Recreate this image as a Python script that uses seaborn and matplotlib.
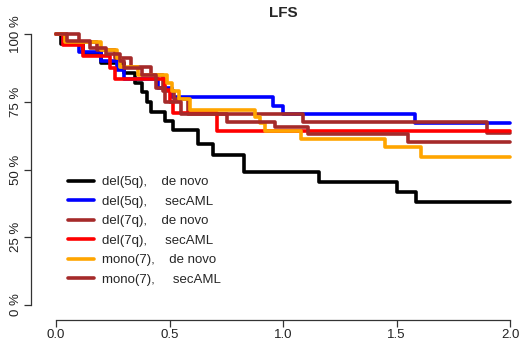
import pandas as pd
import seaborn as sns
import matplotlib.pyplot as plt

sns.set_style('white')
plt.rcParams['font.family'] = ['Liberation Sans', 'DejaVu Sans']

# survival curves (years, % leukemia-free survival)
labels = ['del(5q),    de novo', 'del(5q),     secAML', 'del(7q),    de novo',
          'del(7q),     secAML', 'mono(7),    de novo', 'mono(7),     secAML']
colors = ['black', 'blue', 'brown', 'red', 'orange', 'brown']

del5q_dn_t = [0, 0.02, 0.12, 0.20, 0.30, 0.35, 0.38, 0.40, 0.42, 0.48, 0.515, 0.625, 0.69, 0.83, 1.16, 1.50, 1.585, 2.0]
del5q_dn_s = [100, 96.4, 92.9, 89.3, 85.7, 82.1, 78.6, 75, 71.4, 68, 64.6, 59.5, 55.3, 49, 45.4, 41.6, 38, 38]

del5q_sec_t = [0, 0.03, 0.10, 0.20, 0.27, 0.30, 0.45, 0.51, 0.956, 1.0, 1.58, 2.0]
del5q_sec_s = [100, 96.7, 93.3, 90, 86.7, 83.3, 80, 76.7, 73.5, 70.5, 67, 67]

del7q_dn_t = [0, 0.10, 0.18, 0.26, 0.33, 0.42, 0.47, 0.52, 0.58, 1.09, 1.90, 2.0]
del7q_dn_s = [100, 97, 94, 91, 88, 85, 79, 76, 70.5, 67.5, 63.5, 63.5]

del7q_sec_t = [0, 0.03, 0.12, 0.24, 0.26, 0.48, 0.50, 0.515, 0.71, 2.0]
del7q_sec_s = [100, 95.8, 91.7, 87.5, 83.3, 79.2, 75, 71, 64.3, 64.3]

mono7_dn_t = [0, 0.04, 0.20, 0.27, 0.28, 0.36, 0.49, 0.51, 0.54, 0.59, 0.877, 0.90, 0.92, 1.08, 1.45, 1.61, 2.0]
mono7_dn_s = [100, 97, 94, 91, 88, 85, 82, 79, 76, 72, 69.4, 67, 64.2, 61.3, 58.2, 54.7, 54.7]

mono7_sec_t = [0, 0.05, 0.15, 0.22, 0.28, 0.30, 0.38, 0.44, 0.48, 0.55, 0.753, 0.965, 1.11, 1.55, 2.0]
mono7_sec_s = [100, 97.5, 95, 92.5, 90, 87.5, 85, 80, 75, 70.5, 67.5, 65.7, 63, 60, 60]

series = [(del5q_dn_t, del5q_dn_s), (del5q_sec_t, del5q_sec_s), (del7q_dn_t, del7q_dn_s),
          (del7q_sec_t, del7q_sec_s), (mono7_dn_t, mono7_dn_s), (mono7_sec_t, mono7_sec_s)]

frames = []
for lab, (t, s) in zip(labels, series):
    frames.append(pd.DataFrame({'time': t, 'lfs': s, 'group': lab}))
df = pd.concat(frames, ignore_index=True)

fig = plt.figure(figsize=(5.19, 3.54), dpi=100)
ax = fig.add_axes([56 / 519, 1 - 305 / 354, 454 / 519, 271 / 354])

sns.lineplot(data=df, x='time', y='lfs', hue='group', hue_order=labels,
             palette=dict(zip(labels, colors)), drawstyle='steps-post',
             estimator=None, sort=False, lw=2.6, ax=ax)
for line in ax.get_lines():
    line.set_clip_on(False)

# R-style detached axes (set spines first: moving them resets the ticks)
for side in ['top', 'right']:
    ax.spines[side].set_visible(False)
ax.spines['left'].set_position(('outward', 18))
ax.spines['bottom'].set_position(('outward', 11))
for side in ['left', 'bottom']:
    ax.spines[side].set_color('#333333')
    ax.spines[side].set_linewidth(0.9)

ax.set_xlim(0, 2)
ax.set_ylim(0, 100)
ax.set_xticks([0, 0.5, 1.0, 1.5, 2.0])
ax.set_xticklabels(['0.0', '0.5', '1.0', '1.5', '2.0'], fontsize=9.5)
ax.set_yticks([0, 25, 50, 75, 100])
ax.set_yticklabels(['0 %', '25 %', '50 %', '75 %', '100 %'], fontsize=9.5,
                   rotation=90, va='center', ha='center')
ax.set_xlabel('')
ax.set_ylabel('')
ax.set_title('LFS', fontsize=11, fontweight='bold', pad=12)

ax.tick_params(axis='both', direction='out', length=5, width=0.9, color='#333333',
               left=True, bottom=True, labelcolor='#222222')
ax.tick_params(axis='y', pad=5.5)
ax.tick_params(axis='x', pad=1.5)

leg = ax.legend(loc='upper left', bbox_to_anchor=(0.0, 0.52), frameon=False,
                fontsize=9.5, handlelength=2.0, handletextpad=0.6, labelspacing=0.55)
for h in leg.get_lines():
    h.set_linewidth(2.6)

fig.savefig('out.png', dpi=100)
